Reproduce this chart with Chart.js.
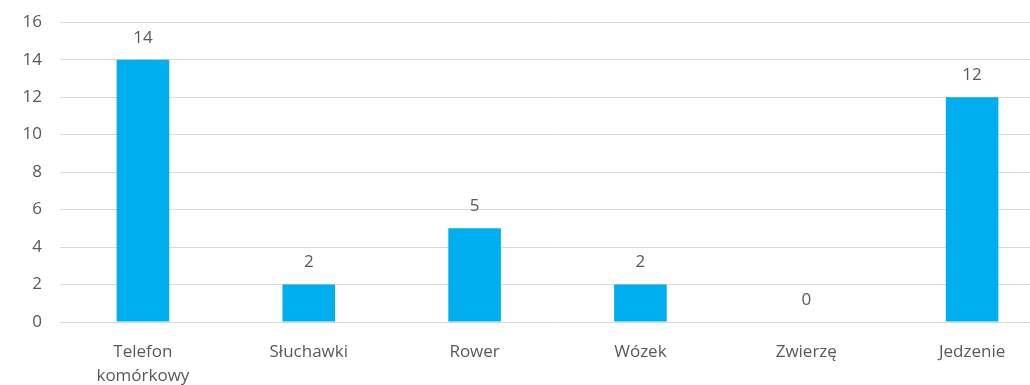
<!DOCTYPE html>
<html>
<head>
<meta charset="utf-8">
<script src="https://cdn.jsdelivr.net/npm/chart.js@4"></script>
<style>
    html, body { margin: 0; padding: 0; background: #fff; overflow: hidden; }
    .chart-container { position: relative; width: 1060px; height: 391px; margin-top: -6px; }
</style>
</head>
<body>
<div class="chart-container">
    <canvas id="chart"></canvas>
</div>
<script>
const categories = [['Telefon', 'komórkowy'], 'Słuchawki', 'Rower', 'Wózek', 'Zwierzę', 'Jedzenie'];
const values = [14, 2, 5, 2, 0, 12];
const yTicks = [0, 2, 4, 6, 8, 10, 12, 14, 16];

const textColor = '#595959';
const fontFamily = "'Open Sans', 'Noto Sans', sans-serif";
const fontSize = 17;

// Draws the value above each bar
const valueLabels = {
    id: 'valueLabels',
    afterDatasetsDraw(chart) {
        const ctx = chart.ctx;
        const meta = chart.getDatasetMeta(0);
        ctx.save();
        ctx.fillStyle = textColor;
        ctx.font = `${fontSize}px ${fontFamily}`;
        ctx.textAlign = 'center';
        ctx.textBaseline = 'middle';
        meta.data.forEach((bar, i) => {
            ctx.fillText(String(values[i]), bar.x, bar.y - 22);
        });
        ctx.restore();
    }
};

const ctx = document.getElementById('chart').getContext('2d');
new Chart(ctx, {
    type: 'bar',
    data: {
        labels: categories,
        datasets: [{
            data: values,
            backgroundColor: '#00AEEF',
            borderWidth: 0,
            categoryPercentage: 1,
            barPercentage: 0.317
        }]
    },
    options: {
        responsive: true,
        maintainAspectRatio: false,
        animation: false,
        layout: { padding: { top: 4, right: 5, left: 0, bottom: 0 } },
        plugins: {
            legend: { display: false },
            tooltip: { enabled: false }
        },
        scales: {
            x: {
                afterFit: (scale) => { scale.height = 63; },
                grid: { display: false },
                border: { display: false },
                ticks: {
                    color: textColor,
                    font: { family: fontFamily, size: fontSize, lineHeight: 1.4 },
                    padding: 10,
                    maxRotation: 0
                }
            },
            y: {
                min: 0,
                max: 16,
                afterBuildTicks: (scale) => {
                    scale.ticks = yTicks.map(v => ({ value: v }));
                },
                afterFit: (scale) => { scale.width = 60; },
                grid: { color: '#d9d9d9', drawTicks: false },
                border: { display: false },
                ticks: {
                    color: textColor,
                    font: { family: fontFamily, size: fontSize },
                    padding: 18
                }
            }
        }
    },
    plugins: [valueLabels]
});
</script>
</body>
</html>
